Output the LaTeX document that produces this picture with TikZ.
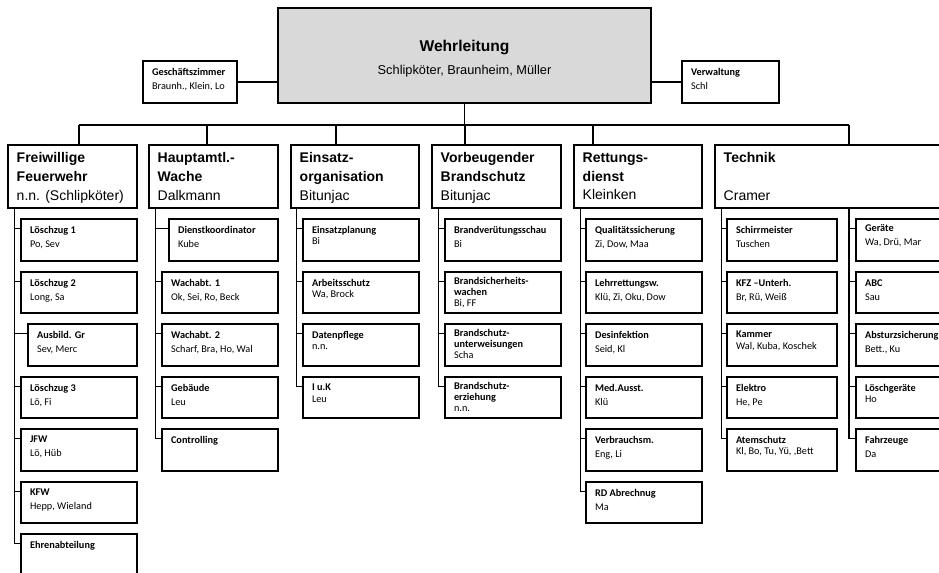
\documentclass[tikz,border=0pt]{standalone}
\usepackage{fontspec}
\setmainfont{Liberation Sans}
\newfontfamily\carlito{Carlito}
\usetikzlibrary{fit}
\definecolor{wlgray}{RGB}{217,217,217}

\begin{document}
\begin{tikzpicture}[x=0.75pt,y=-0.75pt,
  hbox/.style={draw, line width=0.8pt, inner sep=0pt},
  sbox/.style={draw, line width=0.8pt, inner sep=0pt},
  conn/.style={line width=0.8pt},
  htxt/.style={anchor=north west, inner sep=0pt, align=left, xshift=6.75pt, yshift=-6pt, font=\fontsize{10.5pt}{14pt}\selectfont},
  stxt/.style={anchor=north west, inner sep=0pt, align=left, xshift=7pt, yshift=-5.7pt, font=\carlito\fontsize{7.7pt}{10.5pt}\selectfont},
  ttxt/.style={stxt, font=\carlito\fontsize{7.7pt}{8.4pt}\selectfont}]
\path[use as bounding box, clip] (0,0) rectangle (939,573);

%Shape: Rectangle -- Wehrleitung
\node[hbox, fill=wlgray, fit={(278,8)(651,103)}, label={[anchor=center, inner sep=0pt, align=center, yshift=-2.5pt, font=\fontsize{9.6pt}{17pt}\selectfont]center:{{\fontsize{11.7pt}{17pt}\selectfont\bfseries Wehrleitung}\\Schlipköter, Braunheim, Müller}}] (wl) {};
\node[sbox, fit={(143,61)(237,103)}, label={[stxt]north west:{\textbf{Geschäftszimmer}\\Braunh., Klein, Lo}}] (gz) {};
\node[sbox, fit={(682,61)(779,103)}, label={[stxt]north west:{\textbf{Verwaltung}\\Schl}}] (vw) {};

%Straight Lines
\draw[conn] (gz.east) -- (wl.west |- gz.east);
\draw[conn] (wl.east |- vw.west) -- (vw.west);

% bus
\coordinate (b1) at (79,125);
\coordinate (b2) at (207,125);
\coordinate (b3) at (336,125);
\coordinate (b4) at (465,125);
\coordinate (b5) at (593,125);
\coordinate (b6) at (849,125);
\draw[conn] (wl.south) -- (wl.south |- b4);
\draw[conn] (b1) -- (b6);

%Shape: Rectangle -- Bereiche
\node[hbox, fit={(8,145)(137,208)}, label={[htxt]north west:{\textbf{Freiwillige}\\\textbf{Feuerwehr}\\n.n. (Schlipköter)}}] (ffw) {};
\node[hbox, fit={(149,145)(278,208)}, label={[htxt]north west:{\textbf{Hauptamtl.-}\\\textbf{Wache}\\Dalkmann}}] (hw) {};
\node[hbox, fit={(291,145)(419,208)}, label={[htxt]north west:{\textbf{Einsatz-}\\\textbf{organisation}\\Bitunjac}}] (eo) {};
\node[hbox, fit={(432,145)(561,208)}, label={[htxt]north west:{\textbf{Vorbeugender}\\\textbf{Brandschutz}\\Bitunjac}}] (vb) {};
\node[hbox, fit={(574,145)(702,208)}, label={[htxt]north west:{\textbf{Rettungs-}\\\textbf{dienst}\\Kleinken}}] (rd) {};
\node[hbox, fit={(715,145)(975,208)}, label={[htxt]north west:{\textbf{Technik}\\[14pt]Cramer}}] (tk) {};

%Straight Lines
\draw[conn] (b1) -- (b1 |- ffw.north);
\draw[conn] (b2) -- (b2 |- hw.north);
\draw[conn] (b3) -- (b3 |- eo.north);
\draw[conn] (b4) -- (b4 |- vb.north);
\draw[conn] (b5) -- (b5 |- rd.north);
\draw[conn] (b6) -- (b6 |- tk.north);

%Shape: Rectangle -- Freiwillige Feuerwehr
\node[sbox, fit={(21,219)(137,261)}, label={[stxt]north west:{\textbf{Löschzug 1}\\Po, Sev}}] (lz1) {};
\node[sbox, fit={(21,272)(137,313)}, label={[stxt]north west:{\textbf{Löschzug 2}\\Long, Sa}}] (lz2) {};
\node[sbox, fit={(28,324)(137,366)}, label={[stxt]north west:{\textbf{Ausbild. Gr}\\Sev, Merc}}] (agr) {};
\node[sbox, fit={(21,377)(137,418)}, label={[stxt]north west:{\textbf{Löschzug 3}\\Lö, Fi}}] (lz3) {};
\node[sbox, fit={(21,429)(137,471)}, label={[stxt]north west:{\textbf{JFW}\\Lö, Hüb}}] (jfw) {};
\node[sbox, fit={(21,482)(137,523)}, label={[stxt]north west:{\textbf{KFW}\\Hepp, Wieland}}] (kfw) {};
\node[sbox, fit={(21,534)(137,590)}, label={[stxt]north west:{\textbf{Ehrenabteilung}}}] (ehr) {};

%Shape: Rectangle -- Hauptamtliche Wache
\node[sbox, fit={(169,219)(278,261)}, label={[stxt]north west:{\textbf{Dienstkoordinator}\\Kube}}] (dk) {};
\node[sbox, fit={(162,272)(278,313)}, label={[stxt]north west:{\textbf{Wachabt. 1}\\Ok, Sei, Ro, Beck}}] (wa1) {};
\node[sbox, fit={(162,324)(278,366)}, label={[stxt]north west:{\textbf{Wachabt. 2}\\Scharf, Bra, Ho, Wal}}] (wa2) {};
\node[sbox, fit={(162,377)(278,418)}, label={[stxt]north west:{\textbf{Gebäude}\\Leu}}] (geb) {};
\node[sbox, fit={(162,429)(278,471)}, label={[stxt]north west:{\textbf{Controlling}}}] (ctr) {};

%Shape: Rectangle -- Einsatzorganisation
\node[sbox, fit={(303,219)(419,261)}, label={[ttxt]north west:{\textbf{Einsatzplanung}\\Bi}}] (ep) {};
\node[sbox, fit={(303,272)(419,313)}, label={[ttxt]north west:{\textbf{Arbeitsschutz}\\Wa, Brock}}] (as) {};
\node[sbox, fit={(303,324)(419,366)}, label={[ttxt]north west:{\textbf{Datenpflege}\\n.n.}}] (dp) {};
\node[sbox, fit={(303,377)(419,418)}, label={[ttxt]north west:{\textbf{I u.K}\\Leu}}] (iuk) {};

%Shape: Rectangle -- Vorbeugender Brandschutz
\node[sbox, fit={(445,219)(561,261)}, label={[stxt]north west:{\textbf{Brandverütungsschau}\\Bi}}] (bvs) {};
\node[sbox, fit={(445,272)(561,313)}, label={[ttxt,yshift=1.5pt]north west:{\textbf{Brandsicherheits-}\\\textbf{wachen}\\Bi, FF}}] (bsw) {};
\node[sbox, fit={(445,324)(561,366)}, label={[ttxt,yshift=1.5pt]north west:{\textbf{Brandschutz-}\\\textbf{unterweisungen}\\Scha}}] (bsu) {};
\node[sbox, fit={(445,377)(561,418)}, label={[ttxt,yshift=1.5pt]north west:{\textbf{Brandschutz-}\\\textbf{erziehung}\\n.n.}}] (bse) {};

%Shape: Rectangle -- Rettungsdienst
\node[sbox, fit={(586,219)(702,261)}, label={[stxt]north west:{\textbf{Qualitätssicherung}\\Zi, Dow, Maa}}] (qs) {};
\node[sbox, fit={(586,272)(702,313)}, label={[stxt]north west:{\textbf{Lehrrettungsw.}\\Klü, Zi, Oku, Dow}}] (lr) {};
\node[sbox, fit={(586,324)(702,366)}, label={[stxt]north west:{\textbf{Desinfektion}\\Seid, Kl}}] (des) {};
\node[sbox, fit={(586,377)(702,418)}, label={[stxt]north west:{\textbf{Med.Ausst.}\\Klü}}] (med) {};
\node[sbox, fit={(586,429)(702,471)}, label={[stxt]north west:{\textbf{Verbrauchsm.}\\Eng, Li}}] (vbm) {};
\node[sbox, fit={(586,482)(702,523)}, label={[stxt]north west:{\textbf{RD Abrechnug}\\Ma}}] (rda) {};

%Shape: Rectangle -- Technik
\node[sbox, fit={(727,219)(837,261)}, label={[stxt]north west:{\textbf{Schirrmeister}\\Tuschen}}] (sm) {};
\node[sbox, fit={(727,272)(837,313)}, label={[stxt]north west:{\textbf{KFZ –Unterh.}\\Br, Rü, Weiß}}] (kfz) {};
\node[sbox, fit={(727,324)(837,366)}, label={[ttxt]north west:{\textbf{Kammer}\\Wal, Kuba, Koschek}}] (kam) {};
\node[sbox, fit={(727,377)(837,418)}, label={[stxt]north west:{\textbf{Elektro}\\He, Pe}}] (ele) {};
\node[sbox, fit={(727,429)(837,471)}, label={[ttxt]north west:{\textbf{Atemschutz}\\Kl, Bo, Tu, Yü, ,Bett}}] (ats) {};
\node[sbox, fit={(856,219)(972,261)}, label={[stxt,yshift=1.5pt]north west:{\textbf{Geräte}\\Wa, Drü, Mar}}] (ger) {};
\node[sbox, fit={(856,272)(972,313)}, label={[stxt]north west:{\textbf{ABC}\\Sau}}] (abc) {};
\node[sbox, fit={(856,324)(972,366)}, label={[stxt]north west:{\textbf{Absturzsicherung}\\Bett., Ku}}] (abs) {};
\node[sbox, fit={(856,377)(972,418)}, label={[ttxt]north west:{\textbf{Löschgeräte}\\Ho}}] (lg) {};
\node[sbox, fit={(856,429)(972,471)}, label={[stxt]north west:{\textbf{Fahrzeuge}\\Da}}] (fz) {};

% spines
\coordinate (s1) at ([xshift=5.25pt]ffw.south west);
\coordinate (s2) at ([xshift=5.25pt]hw.south west);
\coordinate (s3) at ([xshift=4.5pt]eo.south west);
\coordinate (s4) at ([xshift=5.25pt]vb.south west);
\coordinate (s5) at ([xshift=5.25pt]rd.south west);
\coordinate (s6) at ([xshift=5.25pt]tk.south west);
\coordinate (s7) at (b6 |- tk.south);

%Straight Lines
\draw[conn] (s1) |- ([yshift=-7.5pt]lz1.north west) (s1) |- ([yshift=-7.5pt]lz2.north west) (s1) |- ([yshift=-7.5pt]agr.north west) (s1) |- ([yshift=-7.5pt]lz3.north west) (s1) |- ([yshift=-7.5pt]jfw.north west) (s1) |- ([yshift=-7.5pt]kfw.north west) (s1) |- ([yshift=-7.5pt]ehr.north west);
\draw[conn] (s2) |- ([yshift=-7.5pt]dk.north west) (s2) |- ([yshift=-7.5pt]wa1.north west) (s2) |- ([yshift=-7.5pt]wa2.north west) (s2) |- ([yshift=-7.5pt]geb.north west) (s2) |- ([yshift=-7.5pt]ctr.north west);
\draw[conn] (s3) |- ([yshift=-7.5pt]ep.north west) (s3) |- ([yshift=-7.5pt]as.north west) (s3) |- ([yshift=-7.5pt]dp.north west) (s3) |- ([yshift=-7.5pt]iuk.north west);
\draw[conn] (s4) |- ([yshift=-7.5pt]bvs.north west) (s4) |- ([yshift=-7.5pt]bsw.north west) (s4) |- ([yshift=-7.5pt]bsu.north west) (s4) |- ([yshift=-7.5pt]bse.north west);
\draw[conn] (s5) |- ([yshift=-7.5pt]qs.north west) (s5) |- ([yshift=-7.5pt]lr.north west) (s5) |- ([yshift=-7.5pt]des.north west) (s5) |- ([yshift=-7.5pt]med.north west) (s5) |- ([yshift=-7.5pt]vbm.north west) (s5) |- ([yshift=-7.5pt]rda.north west);
\draw[conn] (s6) |- ([yshift=-7.5pt]sm.north west) (s6) |- ([yshift=-7.5pt]kfz.north west) (s6) |- ([yshift=-7.5pt]kam.north west) (s6) |- ([yshift=-7.5pt]ele.north west) (s6) |- ([yshift=-7.5pt]ats.north west);
\draw[conn] (s7) |- ([yshift=-7.5pt]ger.north west) (s7) |- ([yshift=-7.5pt]abc.north west) (s7) |- ([yshift=-7.5pt]abs.north west) (s7) |- ([yshift=-7.5pt]lg.north west) (s7) |- ([yshift=-7.5pt]fz.north west);

\end{tikzpicture}
\end{document}
